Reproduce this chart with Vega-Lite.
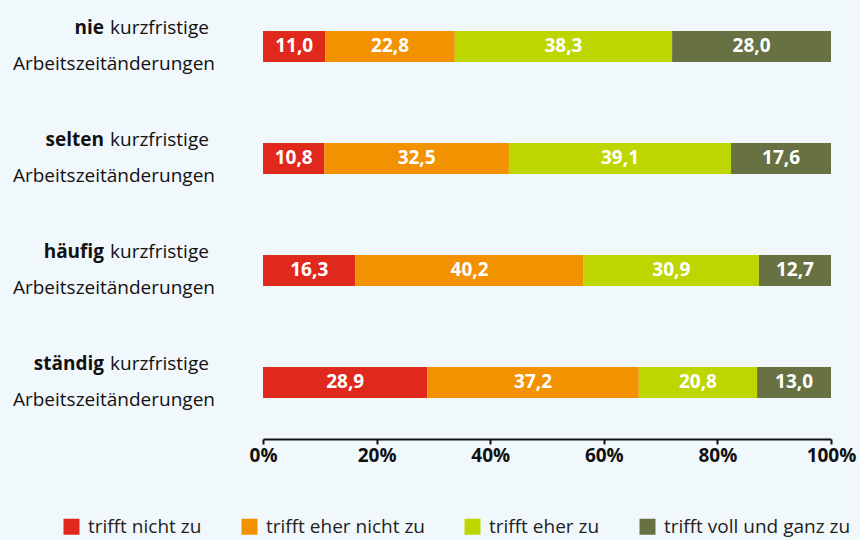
{
  "$schema": "https://vega.github.io/schema/vega-lite/v6.json",
  "width": 568,
  "height": 439,
  "autosize": {"type": "none"},
  "padding": {"left": 263, "top": 0, "right": 29, "bottom": 101},
  "background": "#f1f8fc",
  "config": {
    "view": {"stroke": null},
    "font": "Open Sans",
    "locale": {"number": {"decimal": ",", "thousands": ".", "grouping": [3], "currency": ["", " €"]}}
  },
  "data": {
    "values": [
      {"gruppe": "nie", "antwort": "trifft nicht zu", "k": 1, "wert": 11.0},
      {"gruppe": "nie", "antwort": "trifft eher nicht zu", "k": 2, "wert": 22.8},
      {"gruppe": "nie", "antwort": "trifft eher zu", "k": 3, "wert": 38.3},
      {"gruppe": "nie", "antwort": "trifft voll und ganz zu", "k": 4, "wert": 28.0},
      {"gruppe": "selten", "antwort": "trifft nicht zu", "k": 1, "wert": 10.8},
      {"gruppe": "selten", "antwort": "trifft eher nicht zu", "k": 2, "wert": 32.5},
      {"gruppe": "selten", "antwort": "trifft eher zu", "k": 3, "wert": 39.1},
      {"gruppe": "selten", "antwort": "trifft voll und ganz zu", "k": 4, "wert": 17.6},
      {"gruppe": "häufig", "antwort": "trifft nicht zu", "k": 1, "wert": 16.3},
      {"gruppe": "häufig", "antwort": "trifft eher nicht zu", "k": 2, "wert": 40.2},
      {"gruppe": "häufig", "antwort": "trifft eher zu", "k": 3, "wert": 30.9},
      {"gruppe": "häufig", "antwort": "trifft voll und ganz zu", "k": 4, "wert": 12.7},
      {"gruppe": "ständig", "antwort": "trifft nicht zu", "k": 1, "wert": 28.9},
      {"gruppe": "ständig", "antwort": "trifft eher nicht zu", "k": 2, "wert": 37.2},
      {"gruppe": "ständig", "antwort": "trifft eher zu", "k": 3, "wert": 20.8},
      {"gruppe": "ständig", "antwort": "trifft voll und ganz zu", "k": 4, "wert": 13.0}
    ]
  },
  "transform": [
    {"stack": "wert", "groupby": ["gruppe"], "sort": [{"field": "k", "order": "ascending"}], "offset": "normalize", "as": ["x0", "x1"]},
    {"calculate": "(datum.x0 + datum.x1) / 2", "as": "xm"}
  ],
  "encoding": {
    "y": {
      "field": "gruppe",
      "type": "nominal",
      "sort": ["nie", "selten", "häufig", "ständig"],
      "axis": null,
      "scale": {"paddingInner": 0.723, "paddingOuter": 0.3214, "align": 0.43}
    }
  },
  "layer": [
    {
      "mark": {"type": "bar"},
      "encoding": {
        "x": {
          "field": "x0",
          "type": "quantitative",
          "scale": {"domain": [0, 1], "nice": false},
          "axis": {
            "title": null,
            "format": "0%",
            "values": [0, 0.2, 0.4, 0.6, 0.8, 1],
            "grid": false,
            "domainColor": "#111111",
            "domainWidth": 2,
            "tickColor": "#111111",
            "tickWidth": 2,
            "tickSize": 5,
            "labelFont": "Open Sans",
            "labelFontSize": 19,
            "labelFontWeight": "bold",
            "labelColor": "#111111",
            "labelPadding": 2,
            "labelFlush": false
          }
        },
        "x2": {"field": "x1"},
        "color": {
          "field": "antwort",
          "type": "nominal",
          "scale": {
            "domain": ["trifft nicht zu", "trifft eher nicht zu", "trifft eher zu", "trifft voll und ganz zu"],
            "range": ["#e0291d", "#f39200", "#bed600", "#687142"]
          },
          "legend": {
            "title": null,
            "orient": "none",
            "direction": "horizontal",
            "legendX": -201,
            "legendY": 517,
            "symbolType": "square",
            "symbolSize": 256,
            "symbolStrokeWidth": 0,
            "symbolOpacity": 1,
            "labelFont": "Open Sans",
            "labelFontSize": 19,
            "labelColor": "#222222",
            "labelOffset": 7,
            "labelLimit": 400,
            "columnPadding": 38
          }
        }
      }
    },
    {
      "mark": {"type": "text", "color": "white", "fontWeight": "bold", "fontSize": 19, "font": "Open Sans"},
      "encoding": {
        "x": {"field": "xm", "type": "quantitative"},
        "text": {"field": "wert", "type": "quantitative", "format": ".1f"}
      }
    },
    {
      "transform": [{"filter": "datum.k == 1"}],
      "mark": {"type": "text", "align": "right", "baseline": "alphabetic", "dx": -159, "dy": -12, "fontWeight": "bold", "fontSize": 19, "color": "#111111", "font": "Open Sans"},
      "encoding": {
        "x": {"datum": 0},
        "text": {"field": "gruppe"}
      }
    },
    {
      "transform": [{"filter": "datum.k == 1"}],
      "mark": {"type": "text", "align": "left", "baseline": "alphabetic", "dx": -153, "dy": -12, "fontSize": 19, "color": "#111111", "font": "Open Sans"},
      "encoding": {
        "x": {"datum": 0},
        "text": {"value": "kurzfristige"}
      }
    },
    {
      "transform": [{"filter": "datum.k == 1"}],
      "mark": {"type": "text", "align": "right", "baseline": "alphabetic", "dx": -48, "dy": 24, "fontSize": 19, "color": "#111111", "font": "Open Sans"},
      "encoding": {
        "x": {"datum": 0},
        "text": {"value": "Arbeitszeitänderungen"}
      }
    }
  ]
}
